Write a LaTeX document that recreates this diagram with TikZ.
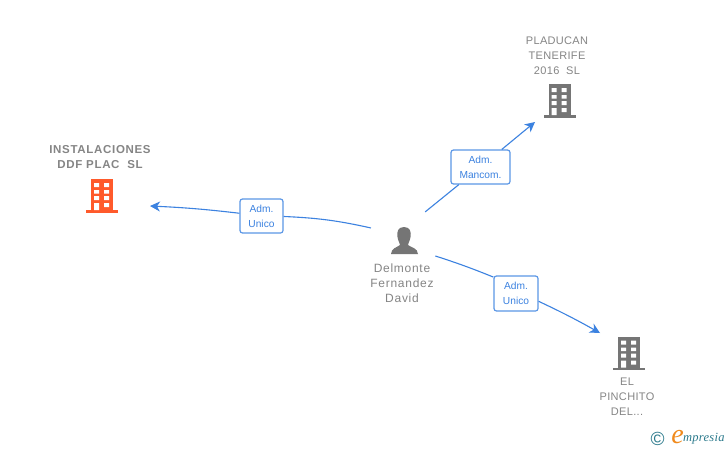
\documentclass[tikz,border=0pt]{standalone}
\usepackage{fontspec}
\setmainfont{Liberation Sans}
\newfontfamily\labelfont[LetterSpace=3]{Liberation Sans}
\newfontfamily\widefont[LetterSpace=6]{Liberation Sans}
\newfontfamily\logofont[LetterSpace=2]{Liberation Serif}
\usetikzlibrary{arrows.meta}
\definecolor{linkblue}{HTML}{3C82E0}
\definecolor{boxblue}{HTML}{5B97E6}
\definecolor{titlegrey}{HTML}{858585}
\definecolor{bldgrey}{HTML}{757575}
\definecolor{bldorange}{HTML}{FF5A2B}
\definecolor{logoteal}{HTML}{2B7A8C}
\definecolor{logoorange}{HTML}{F08A1D}
\tikzset{
  x=1pt,y=-1pt,
  role/.style={draw=boxblue,line width=1.2pt,rounded corners=2.5pt,fill=white,text=linkblue,
    font=\fontsize{10.2}{15}\selectfont,align=center,inner sep=0pt},
  firm/.style={text=titlegrey,font=\labelfont\fontsize{11}{15}\selectfont,align=center,inner sep=0pt},
  link/.style={draw=linkblue,line width=1.1pt},
  arrowlink/.style={link,-{Stealth[length=10pt,width=10pt,inset=3pt]}},
  building/.pic={
    \fill (-11,0) rectangle (11,31);
    \fill (-16,31) rectangle (16,33.5);
    \fill[white] (-8,4) rectangle (-3,8) (2,4) rectangle (7,8)
      (-8,11) rectangle (-3,14.5) (2,11) rectangle (7,14.5)
      (-8,17) rectangle (-3,21) (2,17) rectangle (7,21)
      (-8,24) rectangle (-3,31) (2,24) rectangle (7,28);
  }
}
\begin{document}
\begin{tikzpicture}
\useasboundingbox (0,0) rectangle (728,450);
\fill[white] (0,0) rectangle (728,450);
% person
\node[circle,minimum size=70pt,inner sep=0pt] (delmonte) at (404,240) {};
\fill[bldgrey] (404,227) .. controls (398,227) and (396.5,232) .. (397.5,237)
  .. controls (398,241) and (400,243) .. (400,245)
  .. controls (396,248) and (391.5,248) .. (391,254) -- (418,254)
  .. controls (417.5,248) and (412,248) .. (408,245)
  .. controls (408,243) and (410,241) .. (410.5,237)
  .. controls (411.5,232) and (410,227) .. (404,227) -- cycle;
\node[firm,font=\widefont\fontsize{12}{15}\selectfont] (delmontename) at (402,283) {Delmonte\\Fernandez\\David};
% firms
\node[firm,font=\widefont\bfseries\fontsize{11.5}{15}\selectfont] (instalaciones) at (100,157.5) {INSTALACIONES\\DDF PLAC\ \ SL};
\node[firm] (pladucan) at (557,56) {PLADUCAN\\TENERIFE\\2016\ \ SL};
\node[firm] (pinchito) at (627,397) {EL\\PINCHITO\\DEL...};
\pic[bldorange] at (102,179) {building};
\pic[bldgrey] at (559.5,84) {building};
\pic[bldgrey] at (629,336.5) {building};
% arrow ends
\coordinate (endinst) at (150,206);
\coordinate (endplad) at (535,122);
\coordinate (endpinc) at (600,333);
% roles
\node[role,minimum width=43pt,minimum height=34pt] (roleinst) at (261.5,216) {Adm.\\Unico};
\node[role,minimum width=59pt,minimum height=34pt] (roleplad) at (480.5,167) {Adm.\\Mancom.};
\node[role,minimum width=44pt,minimum height=35pt] (rolepinc) at (516,293.5) {Adm.\\Unico};
\path
  (delmonte.160) edge[link,bend right=5] (roleinst)
  (roleinst) edge[arrowlink,bend right=2] (endinst)
  (delmonte.53) edge[link] (roleplad)
  (roleplad) edge[arrowlink] (endplad)
  (delmonte.-27) edge[link,bend left=2] (rolepinc.144)
  (rolepinc.-19) edge[arrowlink,bend left=2] (endpinc)
;
% logo
\node[inner sep=0pt,text=logoteal,font=\fontsize{19}{19}\selectfont] (copyr) at (657.5,439) {©};
\node[inner sep=0pt,text=logoorange,font=\logofont\itshape\fontsize{28}{28}\selectfont] (logoe) at (677.5,437) {e};
\node[inner sep=0pt,anchor=west,text=logoteal,font=\logofont\itshape\fontsize{12.5}{14}\selectfont] (logotext) at (683,439) {mpresia};
\end{tikzpicture}
\end{document}
